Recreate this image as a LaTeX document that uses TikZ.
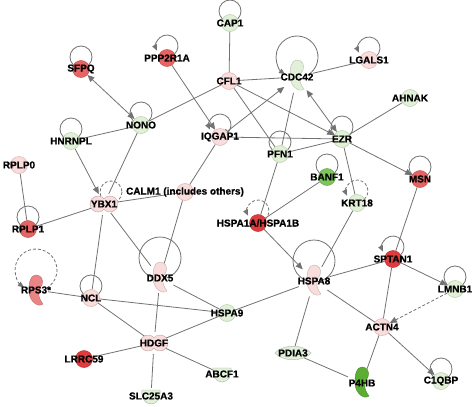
\documentclass[tikz,border=0pt]{standalone}
\usepackage{fontspec}
\setmainfont{Liberation Sans}[BoldFeatures={FakeBold=0.8}]
\usetikzlibrary{arrows.meta,backgrounds}
\definecolor{lg}{HTML}{E2F0D9}
\definecolor{lgd}{HTML}{B5D1A6}
\definecolor{lp}{HTML}{F9DCDC}
\definecolor{lpd}{HTML}{E2B0B0}
\definecolor{rd}{HTML}{E03C3E}
\definecolor{rm}{HTML}{E66464}
\definecolor{rl}{HTML}{EA8585}
\definecolor{gm}{HTML}{7EC65C}
\definecolor{gs}{HTML}{5BAE33}
\definecolor{ec}{HTML}{727272}
\begin{document}
\begin{tikzpicture}[x=1pt,y=-1pt,
  lab/.style={font=\bfseries\fontsize{10}{10}\selectfont, inner sep=0pt, text=black},
  gnode/.style={circle, minimum size=17pt, inner sep=0pt, line width=0.5pt},
  lgn/.style={gnode, fill=lg, draw=lgd},
  lpk/.style={gnode, fill=lp, draw=lpd},
  rdn/.style={gnode, fill=rd, draw=rd!85!black},
  rmn/.style={gnode, fill=rm, draw=rm!85!black},
  gmn/.style={gnode, fill=gm, draw=gm!85!black},
  ghost/.style={circle, minimum size=#1, inner sep=0pt},
  ghost/.default=18pt,
  edge/.style={draw=ec, line width=0.8pt},
  arr/.style={edge, -{Triangle[length=7pt,width=6pt]}},
  darr/.style={edge, {Triangle[length=7pt,width=6pt]}-{Triangle[length=7pt,width=6pt]}},
  inh/.style={edge, {Bar[width=6pt]}-{Triangle[length=7pt,width=6pt]}},
  dsh/.style={dash pattern=on 3pt off 2pt},
  loopP/.pic={\draw[edge] (0,-12) circle[radius=11];},
  loopA/.pic={\draw[edge,-{Triangle[length=6pt,width=5pt]}] (7.07,-3.57) arc[start angle=50,end angle=-205,radius=11];},
  loopD/.pic={\draw[edge,dsh] (0,-12) circle[radius=11];},
  loopDA/.pic={\draw[edge,dsh,-{Triangle[length=6pt,width=5pt]}] (7.07,-3.57) arc[start angle=50,end angle=-205,radius=11];},
  bigP/.pic={\draw[edge] (0,-20) circle[radius=21];},
  bigA/.pic={\draw[edge,-{Triangle[length=6pt,width=5pt]}] (10.5,-1.81) arc[start angle=60,end angle=-235,radius=21];},
  bigDA/.pic={\draw[edge,dsh,-{Triangle[length=6pt,width=5pt]}] (10.5,-1.81) arc[start angle=60,end angle=-235,radius=21];},
  cresc/.pic={\filldraw[fill=#1, draw=#1!80!black, line width=0.4pt] (0,-16) .. controls (5,-16) and (8,-11) .. (6,-6) .. controls (2,-2) and (1,6) .. (7,13) .. controls (2,17) and (-7,10) .. (-7,0) .. controls (-7,-8) and (-6,-16) .. (0,-16) -- cycle;},
  peanut/.pic={\filldraw[fill=#1, draw=#1!75!black, line width=0.4pt] (0,-5.29) arc[start angle=-138.6,end angle=138.6,radius=8] arc[start angle=41.4,end angle=318.6,radius=8] -- cycle;},
  cup/.pic={\filldraw[fill=#1, draw=#1!75!black, line width=0.4pt] (-9,-6) -- (9,-6) .. controls (10,2) and (6,8) .. (0,8) .. controls (-6,8) and (-10,2) .. (-9,-6) -- cycle;},
  lens/.pic={\filldraw[fill=#1, draw=#1!75!black, line width=0.4pt] (-18,0) .. controls (-10,-9) and (10,-9) .. (18,0) .. controls (10,9) and (-10,9) .. (-18,0) -- cycle;}
]
\useasboundingbox (0,0) rectangle (474,407);
% glyphs drawn as pics
\pic at (297,76) {cresc=lg};
\pic at (104,204) {peanut=lp};
\pic at (160,278) {cresc=lp};
\pic at (36,291) {cresc=rl};
\pic at (314,281) {cresc=lp};
\pic at (154,343) {peanut=lp};
\pic at (222,374) {cup=lg};
\pic at (293,353) {lens=lg};
\pic at (362,383) {cresc=gs};
\pic at (151,396) {cup=lg};
% nodes
\node[lgn, label={[lab]center:CAP1}] (cap1) at (230,23) {};
\node[rmn, label={[lab]center:SFPQ}] (sfpq) at (81,69) {};
\node[rmn, label={[lab]center:PPP2R1A}] (ppp) at (167,58) {};
\node[lpk, label={[lab]center:CFL1}] (cfl1) at (229,81) {};
\node[ghost=32pt, label={[lab]center:CDC42}] (cdc42) at (297,77) {};
\node[lpk, label={[lab]center:LGALS1}] (lgals1) at (369,60) {};
\node[lgn, label={[lab]center:AHNAK}] (ahnak) at (410,98) {};
\node[lgn, label={[lab]center:NONO}] (nono) at (141,125) {};
\node[lgn, label={[lab]center:HNRNPL}] (hnrnpl) at (71,141) {};
\node[lpk, label={[lab]center:IQGAP1}] (iqgap1) at (220,137) {};
\node[lgn, label={[lab]center:EZR}] (ezr) at (342,139) {};
\node[lgn, label={[lab]center:PFN1}] (pfn1) at (280,154) {};
\node[lpk, label={[lab]center:RPLP0}] (rplp0) at (19,165) {};
\node[ghost=22pt, label={[lab]center:YBX1}] (ybx1) at (104,204) {};
\node[lpk, label={[lab]center:CALM1 (includes others)}] (calm1) at (185,192) {};
\node[gmn, label={[lab]center:BANF1}] (banf1) at (327,177) {};
\node[lgn, label={[lab]center:KRT18}] (krt18) at (357,203) {};
\node[rmn, label={[lab]center:MSN}] (msn) at (420,179) {};
\node[rdn, label={[lab]center:HSPA1A/HSPA1B}] (hspa1) at (258,223) {};
\node[rmn, label={[lab]center:RPLP1}] (rplp1) at (28,229) {};
\node[ghost=30pt, label={[lab]center:DDX5}] (ddx5) at (160,278) {};
\node[ghost=24pt, label={[lab]center:RPS3*}] (rps3) at (36,290) {};
\node[lpk, label={[lab]center:NCL}] (ncl) at (91,298) {};
\node[ghost=32pt, label={[lab]center:HSPA8}] (hspa8) at (314,281) {};
\node[rdn, label={[lab]center:SPTAN1}] (sptan1) at (393,259) {};
\node[lgn, label={[lab]center:LMNB1}] (lmnb1) at (455,289) {};
\node[lgn, label={[lab]center:HSPA9}] (hspa9) at (227,313) {};
\node[ghost=22pt, label={[lab]center:HDGF}] (hdgf) at (154,343) {};
\node[lpk, label={[lab]center:ACTN4}] (actn4) at (382,327) {};
\node[rdn, label={[lab]center:LRRC59}] (lrrc59) at (84,359) {};
\node[ghost=16pt, label={[lab]center:ABCF1}] (abcf1) at (222,374) {};
\node[ghost=14pt, label={[lab]center:PDIA3}] (pdia3) at (293,353) {};
\node[ghost=30pt, label={[lab]center:P4HB}] (p4hb) at (362,383) {};
\node[lgn, label={[lab]center:C1QBP}] (c1qbp) at (441,381) {};
\node[ghost=16pt, label={[lab]center:SLC25A3}] (slc) at (151,396) {};
\begin{pgfonlayer}{background}
\fill[white] (0,0) rectangle (474,407);
% self loops
\pic at (cap1) {loopP};
\pic at (sfpq) {loopP};
\pic at (nono) {loopP};
\pic at (hnrnpl) {loopP};
\pic at (ezr) {loopP};
\pic at (pfn1) {loopP};
\pic at (banf1) {loopP};
\pic at (rplp1) {loopP};
\pic at (ncl) {loopP};
\pic at (lmnb1) {loopP};
\pic at (c1qbp) {loopP};
\pic at (msn) {loopP};
\pic at (ppp) {loopA};
\pic at (lgals1) {loopA};
\pic at (iqgap1) {loopA};
\pic at (sptan1) {loopA};
\pic at (krt18) {loopDA};
\pic at (hspa1) {loopDA};
\pic at ([xshift=7pt]ybx1.center) {loopD};
\pic at (cdc42) {bigA};
\pic at (ddx5) {bigP};
\pic at (hspa8) {bigP};
\pic at (rps3) {bigDA};
% edges
\draw[darr] (sfpq) -- (nono);
\draw[arr] (ppp) -- (iqgap1);
\draw[edge] (cap1) -- (cfl1);
\draw[edge] (cfl1) -- (nono);
\draw[edge] (cfl1) -- (cdc42);
\draw[edge] (cfl1) -- (pfn1);
\draw[arr] (cfl1) -- (ezr);
\draw[edge] (cdc42) -- (lgals1);
\draw[darr] (cdc42) -- (ezr);
\draw[inh] (iqgap1) -- (cdc42);
\draw[edge] (cdc42) -- (pfn1);
\draw[edge] (iqgap1) -- (ezr);
\draw[edge] (ahnak) -- (ezr);
\draw[arr] (ezr) -- (msn);
\draw[edge] (ezr) -- (pfn1);
\draw[edge] (ezr) -- (krt18);
\draw[edge] (pfn1) -- (hspa1);
\draw[edge] (nono) -- (hnrnpl);
\draw[edge] (nono) -- (ybx1);
\draw[arr] (hnrnpl) -- (ybx1);
\draw[edge] (iqgap1) -- (calm1);
\draw[edge] (ybx1) -- (calm1);
\draw[edge] (calm1) -- (ddx5);
\draw[edge] (rplp0) -- (rplp1);
\draw[edge] (rplp1) -- (ybx1);
\draw[edge] (ybx1) -- (ddx5);
\draw[edge] (ybx1) -- (ncl);
\draw[edge] (banf1) -- (hspa1);
\draw[edge] (krt18) -- (hspa8);
\draw[arr] (hspa1) -- (hspa8);
\draw[edge] (msn) -- (sptan1);
\draw[arr] (sptan1) -- (lmnb1);
\draw[edge] (sptan1) -- (hspa8);
\draw[edge] (sptan1) -- (actn4);
\draw[arr,dsh] (lmnb1) -- (actn4);
\draw[edge] (hspa8) -- (actn4);
\draw[edge] (hspa8) -- (hspa9);
\draw[edge] (hspa8) -- (pdia3);
\draw[edge] (actn4) -- (p4hb);
\draw[arr] (actn4) -- (c1qbp);
\draw[edge] (pdia3) -- (p4hb);
\draw[edge] (rps3) -- (ncl);
\draw[edge] (ncl) -- (hspa9);
\draw[edge] (ddx5) -- (hspa9);
\draw[edge] (ddx5) -- (hdgf);
\draw[edge] (ncl) -- (hdgf);
\draw[edge] (hdgf) -- (hspa9);
\draw[edge] (hdgf) -- (lrrc59);
\draw[edge] (hdgf) -- (abcf1);
\draw[edge] (hdgf) -- (slc);
\end{pgfonlayer}
\end{tikzpicture}
\end{document}
